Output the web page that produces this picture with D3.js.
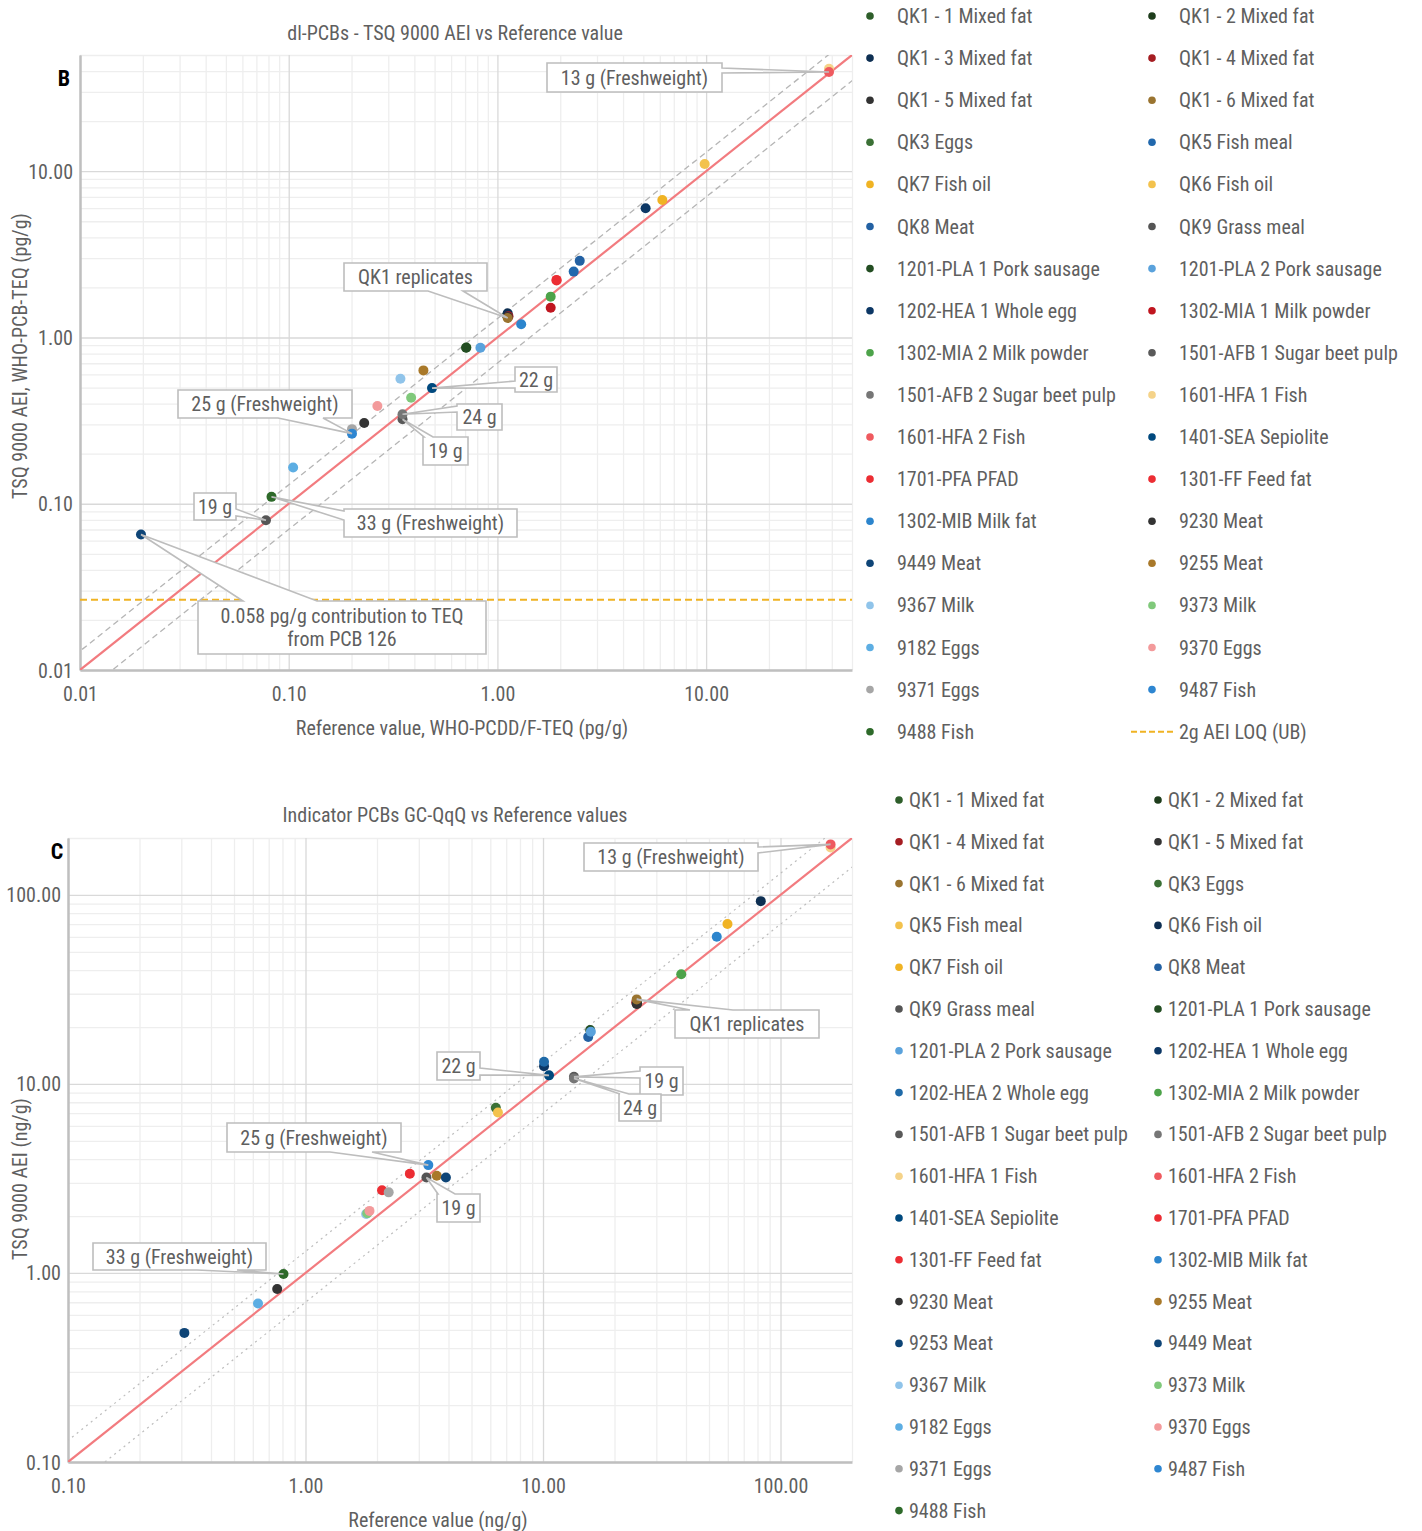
<!DOCTYPE html>
<html>
<head>
<meta charset="utf-8">
<script src="https://cdn.jsdelivr.net/npm/d3@7"></script>
<style>
  body { margin: 0; background: #ffffff; }
  text { font-family: "Liberation Sans Narrow", "Roboto Condensed", "DejaVu Sans Condensed", "Liberation Sans", sans-serif; fill: #5f5f5f; }
</style>
</head>
<body>
<div id="chart"></div>
<script>
// Panel B: dl-PCBs, reference value vs TSQ 9000 AEI (pg/g TEQ)
var samplesB = ["QK1 - 1 Mixed fat", "QK1 - 2 Mixed fat", "QK1 - 3 Mixed fat", "QK1 - 4 Mixed fat",
  "QK1 - 5 Mixed fat", "QK1 - 6 Mixed fat", "QK3 Eggs", "QK5 Fish meal", "QK7 Fish oil", "QK6 Fish oil",
  "QK8 Meat", "QK9 Grass meal", "1201-PLA 1 Pork sausage", "1201-PLA 2 Pork sausage", "1202-HEA 1 Whole egg",
  "1302-MIA 1 Milk powder", "1302-MIA 2 Milk powder", "1501-AFB 1 Sugar beet pulp", "1501-AFB 2 Sugar beet pulp",
  "1601-HFA 1 Fish", "1601-HFA 2 Fish", "1401-SEA Sepiolite", "1701-PFA PFAD", "1301-FF Feed fat",
  "1302-MIB Milk fat", "9230 Meat", "9449 Meat", "9255 Meat", "9367 Milk", "9373 Milk", "9182 Eggs",
  "9370 Eggs", "9371 Eggs", "9487 Fish", "9488 Fish"];
var refB = [1.11, 1.12, 1.12, 1.13, 1.12, 1.12, 0.71, 2.32, 6.17, 9.84, 2.48, 0.0778, 0.708, 0.829, 5.13,
  1.80, 1.80, 0.351, 0.351, 38.8, 38.8, 0.486, 1.92, 1.92, 1.30, 0.230, 0.0196, 0.442, 0.343, 0.386, 0.105,
  0.266, 0.201, 0.201, 0.0827];
var aeiB = [1.36, 1.35, 1.40, 1.34, 1.33, 1.31, 0.87, 2.49, 6.71, 11.05, 2.89, 0.0796, 0.867, 0.867, 5.98,
  1.51, 1.76, 0.322, 0.345, 41.3, 39.5, 0.496, 2.20, 2.22, 1.20, 0.306, 0.0653, 0.634, 0.565, 0.434, 0.165,
  0.387, 0.281, 0.264, 0.110];
var colorsB = ["#2e5e2a", "#1e3d1c", "#0e2f52", "#a51d22", "#333333", "#9a7430", "#3a7035", "#2168ad",
  "#f0b323", "#f3c24d", "#2361a3", "#555555", "#234d22", "#5aa2dc", "#0c3765", "#c0151f", "#4da34a",
  "#595959", "#767676", "#f5d389", "#ef5a5f", "#00497e", "#ec2d33", "#ec2d33", "#2c85cd", "#333333",
  "#0f4577", "#a9792a", "#90c4ea", "#80c97b", "#5daee3", "#f39a9b", "#a6a6a6", "#2e86d1", "#2e6a2a"];
var loqB = 0.0263;
var ticksB = [0.01, 0.1, 1, 10];
var calloutTextB = ["13 g (Freshweight)", "QK1 replicates", "22 g", "24 g", "19 g", "25 g (Freshweight)",
  "19 g", "33 g (Freshweight)", "0.058 pg/g contribution to TEQ|from PCB 126"];
var calloutTargetB = ["1601-HFA 2 Fish", "QK1 - 6 Mixed fat", "1401-SEA Sepiolite", "1501-AFB 2 Sugar beet pulp",
  "1501-AFB 1 Sugar beet pulp", "9487 Fish", "QK9 Grass meal", "9488 Fish", "9449 Meat"];

// Panel C: indicator PCBs, reference value vs TSQ 9000 AEI (ng/g)
var samplesC = ["QK1 - 1 Mixed fat", "QK1 - 2 Mixed fat", "QK1 - 4 Mixed fat", "QK1 - 5 Mixed fat",
  "QK1 - 6 Mixed fat", "QK3 Eggs", "QK5 Fish meal", "QK6 Fish oil", "QK7 Fish oil", "QK8 Meat",
  "QK9 Grass meal", "1201-PLA 1 Pork sausage", "1201-PLA 2 Pork sausage", "1202-HEA 1 Whole egg",
  "1202-HEA 2 Whole egg", "1302-MIA 2 Milk powder", "1501-AFB 1 Sugar beet pulp", "1501-AFB 2 Sugar beet pulp",
  "1601-HFA 1 Fish", "1601-HFA 2 Fish", "1401-SEA Sepiolite", "1701-PFA PFAD", "1301-FF Feed fat",
  "1302-MIB Milk fat", "9230 Meat", "9255 Meat", "9253 Meat", "9449 Meat", "9367 Milk", "9373 Milk",
  "9182 Eggs", "9370 Eggs", "9371 Eggs", "9487 Fish", "9488 Fish"];
var refC = [24.8, 24.9, 24.7, 24.8, 24.8, 6.33, 6.46, 82.6, 59.8, 15.5, 3.23, 15.8, 15.9, 10.1, 10.1, 38.2,
  13.5, 13.5, 162.5, 162.5, 10.6, 2.10, 2.75, 53.9, 0.760, 3.57, 3.90, 0.309, 1.80, 1.82, 0.631, 1.86,
  2.24, 3.29, 0.808];
var aeiC = [26.9, 26.6, 27.0, 26.5, 28.0, 7.48, 7.06, 92.7, 70.1, 17.7, 3.20, 19.3, 18.9, 12.4, 13.1, 38.0,
  10.9, 10.7, 178, 185, 11.1, 2.74, 3.35, 60.1, 0.823, 3.27, 3.20, 0.482, 2.05, 2.07, 0.689, 2.13, 2.67,
  3.72, 0.988];
var colorsC = ["#2e5e2a", "#1e3d1c", "#a51d22", "#333333", "#9a7430", "#3a7035", "#f3c24d", "#0e2f52",
  "#f0b323", "#2361a3", "#555555", "#234d22", "#5aa2dc", "#0c3765", "#1f6aa8", "#4da34a", "#595959",
  "#767676", "#f5d389", "#ef5a5f", "#00497e", "#ec2d33", "#ec2d33", "#2c85cd", "#333333", "#a9792a",
  "#0d4476", "#0f4577", "#90c4ea", "#80c97b", "#5daee3", "#f39a9b", "#a6a6a6", "#2e86d1", "#2e6a2a"];
var ticksC = [0.1, 1, 10, 100];
var calloutTextC = ["13 g (Freshweight)", "QK1 replicates", "22 g", "19 g", "24 g", "25 g (Freshweight)",
  "19 g", "33 g (Freshweight)"];
var calloutTargetC = ["1601-HFA 2 Fish", "QK1 - 6 Mixed fat", "1401-SEA Sepiolite", "1501-AFB 1 Sugar beet pulp",
  "1501-AFB 2 Sugar beet pulp", "9487 Fish", "QK9 Grass meal", "9488 Fish"];

// +/- 30 % agreement band
var bandFactors = [1.3, 0.7];

var svg = d3.select("#chart")
  .append("svg")
  .attr("width", 1422)
  .attr("height", 1531);

var gridMinor = "#eeeeee", gridMajor = "#d9d9d9", axisColor = "#bfbfbf";

function drawPanel(p) {
  var x = d3.scaleLog().domain(p.domain).range(p.xRange);
  var y = d3.scaleLog().domain(p.domain).range(p.yRange);
  var left = p.xRange[0], right = p.xRange[1], top = p.yRange[1], bottom = p.yRange[0];
  var g = svg.append("g");

  // gridlines: 1..9 per decade
  var minor = [], major = [];
  p.ticks.concat([p.ticks[p.ticks.length - 1] * 10]).forEach(function(d) {
    for (var k = 1; k <= 9; k++) {
      var v = k * d;
      if (v >= p.domain[0] * 0.999 && v <= p.domain[1] * 1.001) (k == 1 ? major : minor).push(v);
    }
  });

  [[minor, gridMinor], [major, gridMajor]].forEach(function(set) {
    var gx = g.append("g")
      .attr("transform", `translate(0, ${bottom})`)
      .call(d3.axisBottom(x).tickValues(set[0]).tickSize(-(bottom - top)).tickFormat(""));
    var gy = g.append("g")
      .attr("transform", `translate(${left}, 0)`)
      .call(d3.axisLeft(y).tickValues(set[0]).tickSize(-(right - left)).tickFormat(""));
    [gx, gy].forEach(function(a) {
      a.select(".domain").remove();
      a.selectAll("line").attr("stroke", set[1]).attr("stroke-width", 1.3);
    });
  });

  // axes
  var fmt = d3.format(".2f");
  var xAxis = g.append("g")
    .attr("transform", `translate(0, ${bottom})`)
    .call(d3.axisBottom(x).tickValues(p.ticks).tickFormat(fmt).tickSize(0).tickSizeOuter(0).tickPadding(17));
  var yAxis = g.append("g")
    .attr("transform", `translate(${left}, 0)`)
    .call(d3.axisLeft(y).tickValues(p.ticks).tickFormat(fmt).tickSize(0).tickSizeOuter(0).tickPadding(7));
  [xAxis, yAxis].forEach(function(a) {
    a.select(".domain").attr("stroke", axisColor).attr("stroke-width", 2.5);
    a.selectAll("text").attr("font-size", "20px").attr("fill", "#666").style("font-family", null);
  });
  xAxis.selectAll("text").attr("dy", "0.71em");
  yAxis.selectAll("text").attr("dy", "0.35em");

  // clip
  var clipId = "clip" + p.id;
  svg.append("clipPath").attr("id", clipId)
    .append("rect").attr("x", left).attr("y", top).attr("width", right - left).attr("height", bottom - top);
  var plot = g.append("g").attr("clip-path", `url(#${clipId})`);

  // LOQ line
  if (p.loq) {
    plot.append("line")
      .attr("x1", left).attr("x2", right)
      .attr("y1", y(p.loq) - 0.5).attr("y2", y(p.loq) - 0.5)
      .attr("stroke", "#f0b323").attr("stroke-width", 2).attr("stroke-dasharray", "7,4");
  }

  var ends = [p.domain[0] / 3, p.domain[1] * 3];
  bandFactors.forEach(function(f) {
    plot.append("path")
      .attr("d", d3.line().x(d => x(d)).y(d => y(d * f))(ends))
      .attr("fill", "none")
      .attr("stroke", p.bandColor)
      .attr("stroke-width", p.bandWidth)
      .attr("stroke-dasharray", p.bandDash);
  });

  plot.append("path")
    .attr("d", d3.line().x(d => x(d)).y(d => y(d))(p.domain))
    .attr("fill", "none")
    .attr("stroke", "#f27b7f")
    .attr("stroke-width", 2.2);

  // points
  g.append("g").selectAll("circle")
    .data(p.samples)
    .enter()
    .append("circle")
    .attr("cx", (d, i) => x(p.ref[i]))
    .attr("cy", (d, i) => y(p.aei[i]))
    .attr("r", 5)
    .attr("fill", (d, i) => p.colors[i]);

  // callouts
  p.calloutText.forEach(function(txt, i) {
    var b = p.boxes[i];
    var k = p.samples.indexOf(p.calloutTarget[i]);
    var tip = [x(p.ref[k]), y(p.aei[k])];
    var x0 = b.x, y0 = b.y, x1 = b.x + b.w, y1 = b.y + b.h, pts;
    if (b.side == "top") pts = [[x0, y0], [x0 + b.a, y0], tip, [x0 + b.b, y0], [x1, y0], [x1, y1], [x0, y1]];
    if (b.side == "right") pts = [[x0, y0], [x1, y0], [x1, y0 + b.a], tip, [x1, y0 + b.b], [x1, y1], [x0, y1]];
    if (b.side == "bottom") pts = [[x0, y0], [x1, y0], [x1, y1], [x0 + b.b, y1], tip, [x0 + b.a, y1], [x0, y1]];
    if (b.side == "left") pts = [[x0, y0], [x1, y0], [x1, y1], [x0, y1], [x0, y0 + b.b], tip, [x0, y0 + b.a]];
    g.append("path")
      .attr("d", "M" + pts.join("L") + "Z")
      .attr("fill", "#ffffff")
      .attr("stroke", "#bdbdbd")
      .attr("stroke-width", 1.6);
    var lines = txt.split("|");
    lines.forEach(function(line, j) {
      g.append("text")
        .attr("x", (x0 + x1) / 2)
        .attr("y", (y0 + y1) / 2 + (j - (lines.length - 1) / 2) * 23)
        .attr("dy", "0.35em")
        .attr("text-anchor", "middle")
        .attr("font-size", "20px")
        .text(line);
    });
  });

  // titles and labels
  g.append("text").attr("x", p.titlePos[0]).attr("y", p.titlePos[1]).attr("dy", "0.35em")
    .attr("text-anchor", "middle").attr("font-size", "20px").text(p.title);
  g.append("text").attr("x", p.letterPos[0]).attr("y", p.letterPos[1]).attr("dy", "0.35em")
    .attr("text-anchor", "middle").attr("font-size", "22px").attr("font-weight", "bold")
    .style("fill", "#000").text(p.letter);
  g.append("text")
    .attr("transform", `translate(${p.yLabelPos[0]}, ${p.yLabelPos[1]}) rotate(-90)`)
    .attr("dy", "0.35em").attr("text-anchor", "middle").attr("font-size", "20px").text(p.yLabel);
  g.append("text").attr("x", p.xLabelPos[0]).attr("y", p.xLabelPos[1]).attr("dy", "0.35em")
    .attr("text-anchor", "middle").attr("font-size", "20px").text(p.xLabel);

  // legend, two columns, row-major
  var lg = g.append("g");
  p.samples.forEach(function(name, i) {
    var col = p.legend.cols[i % 2];
    var ly = p.legend.y0 + Math.floor(i / 2) * p.legend.dy;
    lg.append("circle").attr("cx", col[0]).attr("cy", ly).attr("r", 3.8).attr("fill", p.colors[i]);
    lg.append("text").attr("x", col[1]).attr("y", ly).attr("dy", "0.35em")
      .attr("font-size", "20px").text(name);
  });
  if (p.loq) {
    var n = p.samples.length;
    var col = p.legend.cols[n % 2];
    var ly = p.legend.y0 + Math.floor(n / 2) * p.legend.dy;
    lg.append("line").attr("x1", col[0] - 21).attr("x2", col[1] - 4).attr("y1", ly).attr("y2", ly)
      .attr("stroke", "#f0b323").attr("stroke-width", 2).attr("stroke-dasharray", "6,3");
    lg.append("text").attr("x", col[1]).attr("y", ly).attr("dy", "0.35em")
      .attr("font-size", "20px").text("2g AEI LOQ (UB)");
  }
}

drawPanel({
  id: "B",
  samples: samplesB, ref: refB, aei: aeiB, colors: colorsB, ticks: ticksB, loq: loqB,
  calloutText: calloutTextB, calloutTarget: calloutTargetB,
  domain: [0.01, 50], xRange: [80, 852], yRange: [670, 55],
  bandColor: "#b5b5b5", bandWidth: 1.3, bandDash: "6,4",
  title: "dl-PCBs - TSQ 9000 AEI vs Reference value", titlePos: [455, 33],
  letter: "B", letterPos: [64, 78],
  yLabel: "TSQ 9000 AEI, WHO-PCB-TEQ (pg/g)", yLabelPos: [20, 356],
  xLabel: "Reference value, WHO-PCDD/F-TEQ (pg/g)", xLabelPos: [462, 728],
  legend: { cols: [[870, 897], [1152, 1179]], y0: 16, dy: 42.1 },
  boxes: [
    { x: 547, y: 63, w: 175, h: 29, side: "right", a: 5, b: 10 },
    { x: 344, y: 263, w: 143, h: 28, side: "bottom", a: 84, b: 119 },
    { x: 515, y: 367, w: 42, h: 25, side: "left", a: 14, b: 21 },
    { x: 457, y: 404, w: 45, h: 26, side: "left", a: 2, b: 8 },
    { x: 423, y: 437, w: 45, h: 28, side: "top", a: 1, b: 10 },
    { x: 178, y: 390, w: 174, h: 28, side: "bottom", a: 100, b: 145 },
    { x: 194, y: 493, w: 42, h: 27, side: "right", a: 16, b: 23 },
    { x: 344, y: 509, w: 173, h: 28, side: "left", a: 2, b: 11 },
    { x: 198, y: 601, w: 288, h: 53, side: "top", a: 45, b: 119 }
  ]
});

drawPanel({
  id: "C",
  samples: samplesC, ref: refC, aei: aeiC, colors: colorsC, ticks: ticksC, loq: null,
  calloutText: calloutTextC, calloutTarget: calloutTargetC,
  domain: [0.1, 200], xRange: [68, 852], yRange: [1462, 838],
  bandColor: "#bdbdbd", bandWidth: 1.2, bandDash: "2,4",
  title: "Indicator PCBs GC-QqQ vs Reference values", titlePos: [455, 815],
  letter: "C", letterPos: [57, 851],
  yLabel: "TSQ 9000 AEI (ng/g)", yLabelPos: [20, 1179],
  xLabel: "Reference value (ng/g)", xLabelPos: [438, 1520],
  legend: { cols: [[899, 909], [1158, 1168]], y0: 800, dy: 41.8 },
  boxes: [
    { x: 584, y: 843, w: 174, h: 28, side: "right", a: 4, b: 10 },
    { x: 675, y: 1010, w: 144, h: 28, side: "top", a: 15, b: 58 },
    { x: 437, y: 1052, w: 43, h: 28, side: "right", a: 16, b: 23 },
    { x: 640, y: 1067, w: 43, h: 28, side: "left", a: 4, b: 11 },
    { x: 619, y: 1094, w: 42, h: 27, side: "top", a: 1, b: 10 },
    { x: 227, y: 1123, w: 174, h: 29, side: "bottom", a: 103, b: 145 },
    { x: 437, y: 1194, w: 43, h: 28, side: "top", a: 1, b: 18 },
    { x: 93, y: 1243, w: 173, h: 27, side: "bottom", a: 104, b: 144 }
  ]
});
</script>
</body>
</html>
